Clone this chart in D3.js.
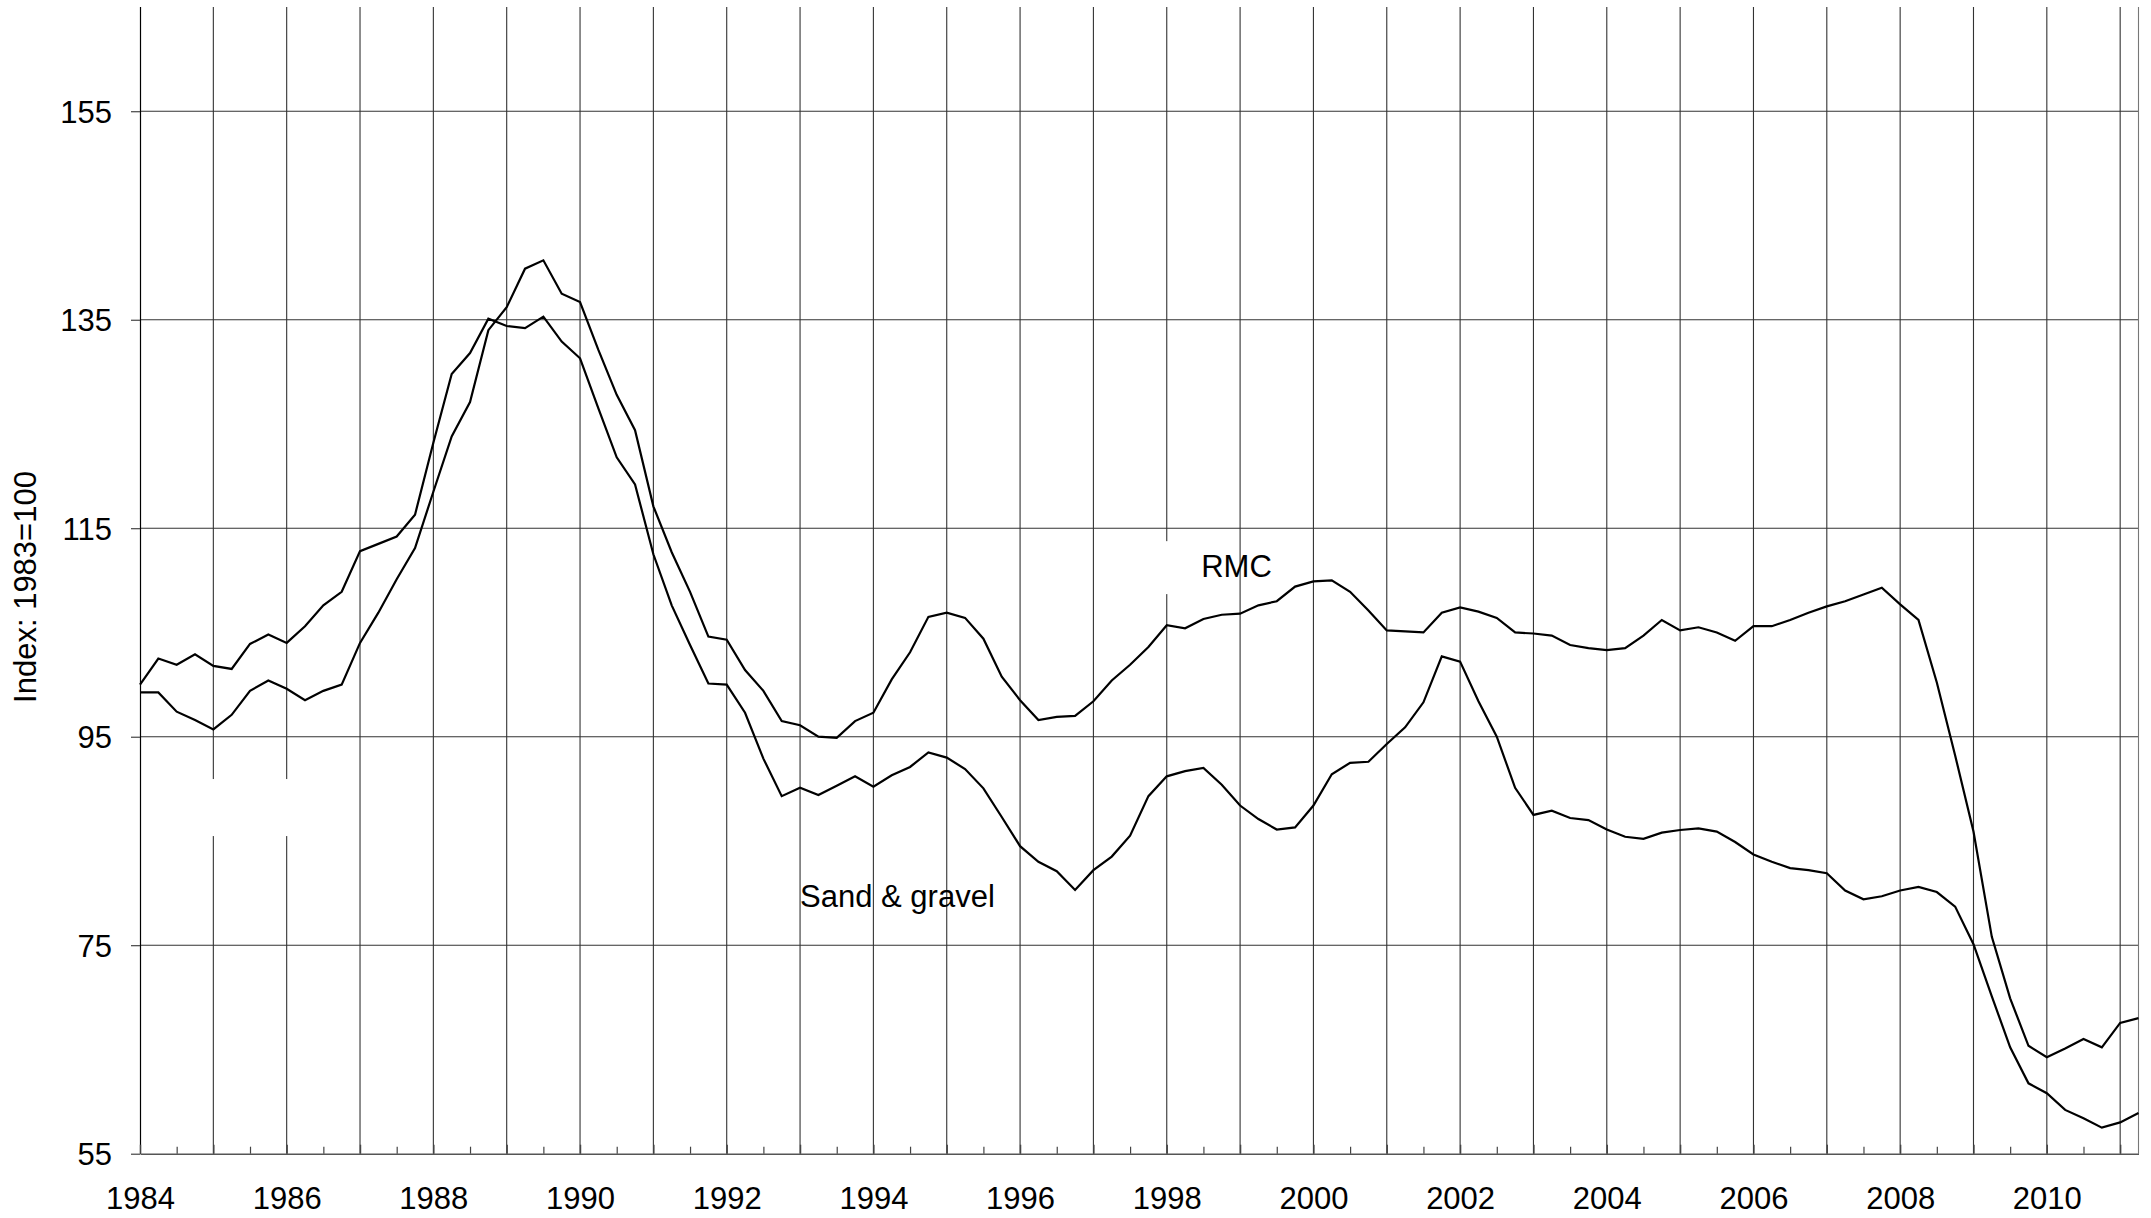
<!DOCTYPE html>
<html>
<head>
<meta charset="utf-8">
<script src="https://cdn.jsdelivr.net/npm/d3@7"></script>
<style>
  html, body { margin: 0; padding: 0; background: #fff; }
  svg { display: block; }
  text { font-family: "Liberation Sans", Arial, Helvetica, sans-serif; fill: #000; }
</style>
</head>
<body>
<svg id="chart" width="2151" height="1218"></svg>
<script>
// Quarterly observations, 1984 Q1 .. 2011 Q2
const startYear = 1984;
const rmc = [
  99.25, 99.25, 97.4, 96.6,
  95.7, 97.1, 99.4, 100.4,
  99.6, 98.5, 99.4, 100.0,
  104.0, 106.9, 110.1, 113.1,
  118.5, 123.8, 127.1, 134.0,
  136.2, 139.9, 140.7, 137.5,
  136.7, 132.1, 127.8, 124.4,
  117.1, 112.7, 108.9, 104.6,
  104.3, 101.4, 99.4, 96.5,
  96.1, 95.0, 94.9, 96.5,
  97.3, 100.5, 103.1, 106.5,
  106.9, 106.4, 104.4, 100.75,
  98.5, 96.6, 96.9, 97.0,
  98.4, 100.4, 101.9, 103.6,
  105.7, 105.4, 106.3, 106.7,
  106.8, 107.6, 108.0, 109.4,
  109.9, 110.0, 108.9, 107.1,
  105.2, 105.1, 105.0, 106.9,
  107.4, 107.0, 106.4, 105.0,
  104.9, 104.7, 103.8, 103.5,
  103.3, 103.5, 104.7, 106.2,
  105.2, 105.5, 105.0, 104.2,
  105.6, 105.6, 106.2, 106.9,
  107.5, 108.0, 108.65, 109.3,
  107.7, 106.2, 100.2, 93.2,
  85.9, 75.8, 69.9, 65.35,
  64.25, 65.1, 66.0, 65.2,
  67.55, 68.0
];
const sandGravel = [
  100.0, 102.5, 101.9, 102.9,
  101.8, 101.5, 103.9, 104.8,
  104.0, 105.6, 107.6, 108.9,
  112.8, 113.5, 114.2, 116.3,
  123.2, 129.8, 131.8, 135.1,
  134.4, 134.2, 135.3, 132.9,
  131.3, 126.5, 121.8, 119.2,
  112.5, 107.6, 103.8, 100.1,
  100.0, 97.3, 92.9, 89.3,
  90.1, 89.4, 90.3, 91.2,
  90.2, 91.3, 92.1, 93.5,
  93.0, 91.9, 90.05, 87.3,
  84.5, 83.0, 82.1, 80.3,
  82.2, 83.5, 85.5, 89.3,
  91.2, 91.7, 92.0, 90.4,
  88.4, 87.1, 86.1, 86.3,
  88.4, 91.4, 92.5, 92.6,
  94.3, 95.9, 98.3, 102.7,
  102.2, 98.4, 95.0, 90.1,
  87.5, 87.9, 87.2, 87.0,
  86.1, 85.4, 85.2, 85.8,
  86.05, 86.2, 85.9, 84.9,
  83.7, 83.0, 82.4, 82.2,
  81.9, 80.25, 79.4, 79.7,
  80.25, 80.6, 80.1, 78.7,
  75.1, 70.1, 65.2, 61.75,
  60.8, 59.2, 58.4, 57.5,
  58.0, 58.9
];
const yTicks = [55, 75, 95, 115, 135, 155];
const xLabelYears = [1984, 1986, 1988, 1990, 1992, 1994, 1996, 1998, 2000, 2002, 2004, 2006, 2008, 2010];
const gridYears = d3.range(1985, 2012);
const halfYears = d3.range(1984.5, 2011.25, 1);
const yTitle = "Index: 1983=100";
const seriesLabels = [
  { text: "RMC", year: 1998.47, value: 110.28 },
  { text: "Sand & gravel", year: 1993.0, value: 78.69 }
];
// blank boxes that interrupt the grid in the original
const maskBoxes = [
  { y0: 1984.14, y1: 1986.59, v0: 90.94, v1: 85.47 },
  { y0: 1997.36, y1: 1998.59, v0: 113.76, v1: 108.68 }
];

(function () {
const W = 2151, H = 1218;
const pLeft = 140, pRight = 2138.5, pTop = 7, pBottom = 1153.7;
const FONT = 31;

const x = d3.scaleLinear().domain([1984, 2011.25]).range([pLeft, pRight]);
const y = d3.scaleLinear().domain([55, 165]).range([pBottom, pTop]);

const svg = d3.select("#chart");
svg.append("rect").attr("width", W).attr("height", H).attr("fill", "#fff");

// grid
const grid = svg.append("g").attr("stroke", "#333").attr("stroke-width", 1.1);
grid.selectAll("line.h").data(yTicks.filter(v => v > 55)).join("line")
  .attr("class", "h")
  .attr("x1", pLeft).attr("x2", pRight)
  .attr("y1", d => y(d)).attr("y2", d => y(d));
grid.selectAll("line.v").data(gridYears).join("line")
  .attr("class", "v")
  .attr("x1", d => x(d)).attr("x2", d => x(d))
  .attr("y1", y(55)).attr("y2", y(165));
// right border
grid.append("line").attr("x1", pRight).attr("x2", pRight)
  .attr("y1", y(55)).attr("y2", y(165)).attr("stroke", "#777");

// white boxes interrupting grid
svg.selectAll("rect.mask").data(maskBoxes).join("rect")
  .attr("class", "mask")
  .attr("x", d => x(d.y0)).attr("width", d => x(d.y1) - x(d.y0))
  .attr("y", d => y(d.v0)).attr("height", d => y(d.v1) - y(d.v0))
  .attr("fill", "#fff");

// y axis
const yAxis = d3.axisLeft(y).tickValues(yTicks).tickSize(9).tickPadding(19)
  .tickFormat(d3.format("d"));
const gy = svg.append("g").attr("transform", `translate(${pLeft},0)`).call(yAxis);
gy.select(".domain").attr("stroke", "#000").attr("stroke-width", 1.2)
  .attr("d", `M0.5,${y(165)}V${y(55)}`);
gy.selectAll(".tick line").attr("stroke", "#333").attr("stroke-width", 1.1);
gy.selectAll(".tick text").attr("font-size", FONT)
  .attr("font-family", '"Liberation Sans", Arial, sans-serif').attr("fill", "#000")
  .attr("dy", "0.36em");

// x axis: major ticks inward, labels every two years
const xAxis = d3.axisBottom(x).tickValues(d3.range(1984, 2012)).tickSize(-9).tickSizeOuter(0)
  .tickFormat(d => xLabelYears.includes(d) ? String(d) : "");
const gx = svg.append("g").attr("transform", `translate(0,${pBottom})`).call(xAxis);
gx.select(".domain").attr("stroke", "#555").attr("stroke-width", 1.6);
gx.selectAll(".tick line").attr("stroke", "#444").attr("stroke-width", 1.4);
gx.selectAll(".tick text").attr("font-size", FONT)
  .attr("font-family", '"Liberation Sans", Arial, sans-serif').attr("fill", "#000")
  .attr("y", 0).attr("dy", "1.8em");

// minor ticks at half years
const xMinor = d3.axisBottom(x).tickValues(halfYears).tickSize(-7).tickSizeOuter(0).tickFormat("");
const gxm = svg.append("g").attr("transform", `translate(0,${pBottom})`).call(xMinor);
gxm.select(".domain").remove();
gxm.selectAll(".tick line").attr("stroke", "#444").attr("stroke-width", 1.2);

// y title
svg.append("text")
  .attr("transform", `translate(36,587) rotate(-90)`)
  .attr("text-anchor", "middle")
  .attr("font-size", FONT)
  .text(yTitle);

// lines
const line = d3.line()
  .x((d, i) => x(startYear + i / 4))
  .y(d => y(d));
[rmc, sandGravel].forEach(series => {
  svg.append("path").datum(series)
    .attr("fill", "none").attr("stroke", "#000").attr("stroke-width", 2.2)
    .attr("stroke-linejoin", "miter")
    .attr("d", line);
});

// series labels
svg.selectAll("text.lab").data(seriesLabels).join("text")
  .attr("class", "lab")
  .attr("x", d => x(d.year)).attr("y", d => y(d.value))
  .attr("font-size", FONT)
  .text(d => d.text);
})();
</script>
</body>
</html>
